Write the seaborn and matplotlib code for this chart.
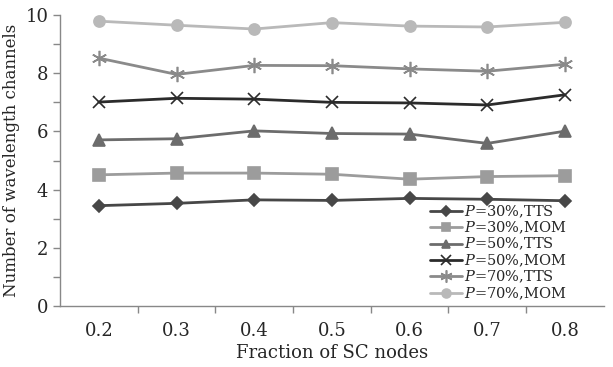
import numpy as np
import pandas as pd
import matplotlib
matplotlib.use('Agg')
import matplotlib.pyplot as plt
import seaborn as sns
from matplotlib.ticker import MultipleLocator, FixedLocator, NullFormatter

sns.set_style('white')
plt.rcParams['font.family'] = ['DejaVu Serif']
plt.rcParams['mathtext.fontset'] = 'custom'
plt.rcParams['mathtext.it'] = 'DejaVu Serif:italic'
plt.rcParams['mathtext.rm'] = 'DejaVu Serif'

# 数据
fractions = ['0.2', '0.3', '0.4', '0.5', '0.6', '0.7', '0.8']
tts_30 = [3.45, 3.53, 3.65, 3.63, 3.70, 3.67, 3.62]
mom_30 = [4.51, 4.57, 4.57, 4.53, 4.36, 4.45, 4.48]
tts_50 = [5.71, 5.75, 6.02, 5.93, 5.91, 5.59, 6.01]
mom_50 = [7.01, 7.14, 7.11, 7.00, 6.98, 6.91, 7.26]
tts_70 = [8.52, 7.96, 8.27, 8.26, 8.15, 8.07, 8.31]
mom_70 = [9.79, 9.65, 9.52, 9.74, 9.62, 9.59, 9.75]

labels = ['$P$=30%,TTS', '$P$=30%,MOM', '$P$=50%,TTS',
          '$P$=50%,MOM', '$P$=70%,TTS', '$P$=70%,MOM']
series = [tts_30, mom_30, tts_50, mom_50, tts_70, mom_70]
colors = ['#474747', '#9c9c9c', '#6c6c6c', '#2b2b2b', '#8a8a8a', '#b9b9b9']
markers = ['D', 's', '^', 'x', (6, 2, 0), 'o']
msizes = [6, 8, 8, 9, 11, 8]

pos = np.arange(len(fractions))

fig = plt.figure(figsize=(6.13, 3.67), dpi=100)
ax = fig.add_axes([0.098, 0.166, 0.887, 0.793])

for vals, lab, c, m, ms in zip(series, labels, colors, markers, msizes):
    sns.lineplot(x=pos, y=vals, ax=ax, color=c, marker=m, markersize=ms,
                 markeredgecolor=c, markeredgewidth=1.2, linewidth=2,
                 label=lab)

ax.set_xlim(-0.5, len(fractions) - 0.5)
ax.set_ylim(0, 10)
# x轴刻度线在类别之间
ax.xaxis.set_major_locator(FixedLocator(pos[:-1] + 0.5))
ax.xaxis.set_major_formatter(NullFormatter())
for p, f in zip(pos, fractions):
    ax.text(p, -0.55, f, ha='center', va='top', fontsize=13)
ax.yaxis.set_major_locator(MultipleLocator(2))
ax.yaxis.set_minor_locator(MultipleLocator(1))
ax.tick_params(axis='both', which='both', direction='out', color='#888888',
               length=5, width=1, labelsize=13)
ax.tick_params(axis='y', which='both', left=True)
ax.tick_params(axis='x', bottom=True)

for s in ['top', 'right']:
    ax.spines[s].set_visible(False)
for s in ['left', 'bottom']:
    ax.spines[s].set_color('#888888')
    ax.spines[s].set_linewidth(1)

ax.set_xlabel('Fraction of SC nodes', fontsize=13, labelpad=19)
ax.set_ylabel('Number of wavelength channels', fontsize=12, labelpad=4)

ax.legend(loc='lower right', bbox_to_anchor=(0.95, -0.02), frameon=False,
          fontsize=10.5, handlelength=2.2, handletextpad=0.1,
          labelspacing=0.0, borderpad=0.2, markerscale=0.8)

fig.savefig('out.png', dpi=100, facecolor='white')
